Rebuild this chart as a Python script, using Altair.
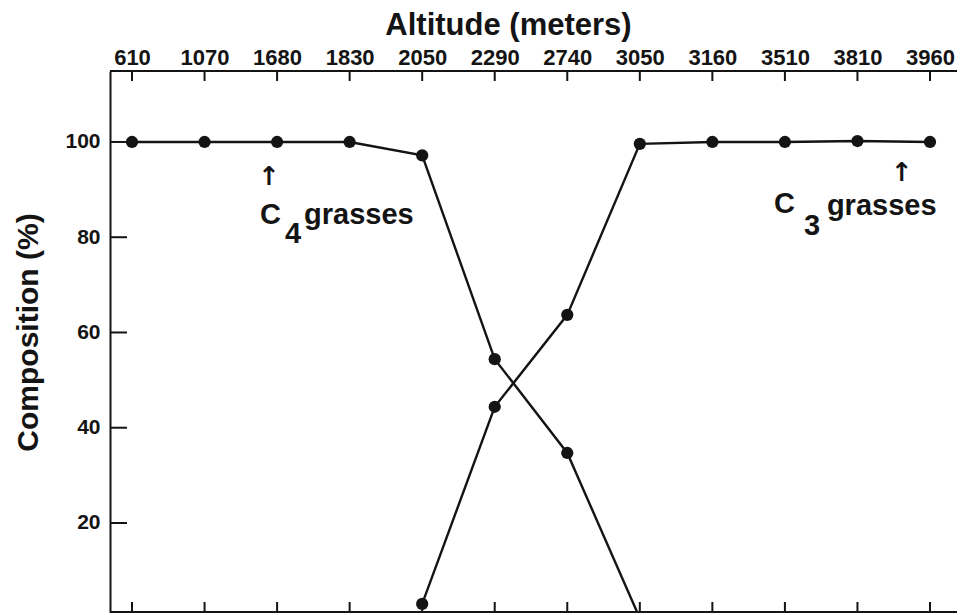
import altair as alt
import pandas as pd

# ---------------- data ----------------
altitudes = ["610", "1070", "1680", "1830", "2050", "2290",
             "2740", "3050", "3160", "3510", "3810", "3960"]
c4_altitudes = altitudes[:8]
c4_values = [100, 100, 100, 100, 97.2, 54.4, 34.7, 0]
c3_altitudes = altitudes[4:]
c3_values = [3.0, 44.4, 63.7, 99.6, 100, 100, 100.2, 100]
series_names = ["C4 grasses", "C3 grasses"]
y_ticks = [20, 40, 60, 80, 100]

# annotation pieces: (anchor altitude, value, text)
ann_c4 = [("1680", 92.7, "↑"), ("1680", 82.8, "C"), ("1680", 78.8, "4"), ("1680", 82.8, "grasses")]
ann_c3 = [("3960", 93.5, "↑"), ("3510", 85.1, "C"), ("3510", 80.5, "3"), ("3510", 84.7, "grasses")]

# ---------------- style ----------------
W, H = 847, 542
INK = "#141414"
FONT = "Liberation Sans"

df = pd.DataFrame({
    "altitude": c4_altitudes + c3_altitudes,
    "pct": c4_values + c3_values,
    "series": [series_names[0]] * len(c4_values) + [series_names[1]] * len(c3_values),
})

xscale = alt.Scale(type="point", domain=altitudes, range=[22, 820], padding=0)
yscale = alt.Scale(domain=[1.1, 114.9], nice=False, zero=False)

xaxis = alt.Axis(orient="top", title="Altitude (meters)", ticks=False, grid=False,
                 domain=False, labelAngle=0,
                 labelFont=FONT, labelFontSize=22, labelFontWeight="bold", labelColor=INK,
                 labelPadding=2,
                 titleFont=FONT, titleFontSize=31, titleFontWeight="bold", titleColor=INK,
                 titleX=398, titleY=-37, titleAlign="center", titleBaseline="alphabetic")
yaxis = alt.Axis(orient="left", title="Composition (%)", values=y_ticks, ticks=False, grid=False,
                 domainColor=INK, domainWidth=2,
                 labelFont=FONT, labelFontSize=21, labelFontWeight="bold", labelColor=INK,
                 labelPadding=10,
                 titleFont=FONT, titleFontSize=30, titleFontWeight="bold", titleColor=INK,
                 titleX=-82, titleY=261, titleAngle=270, titleAlign="center",
                 titleBaseline="middle")

X = alt.X("altitude:N", scale=xscale, axis=xaxis, sort=altitudes)
Y = alt.Y("pct:Q", scale=yscale, axis=yaxis)

base = alt.Chart(df)
lines = base.mark_line(color=INK, strokeWidth=2.4, clip=True).encode(
    x=X, y=Y, detail="series:N")
points = base.mark_circle(color=INK, size=150, opacity=1, clip=True).encode(x=X, y=Y)

alt_df = pd.DataFrame({"altitude": altitudes})
top_ticks = alt.Chart(alt_df).mark_rule(color=INK, strokeWidth=2).encode(
    x=X, y=alt.value(0), y2=alt.value(10))
bottom_ticks = alt.Chart(alt_df).mark_rule(color=INK, strokeWidth=2).encode(
    x=X, y=alt.value(H), y2=alt.value(H - 11))
left_ticks = alt.Chart(pd.DataFrame({"pct": y_ticks})).mark_rule(color=INK, strokeWidth=2).encode(
    y=Y, x=alt.value(0), x2=alt.value(17))
frame_df = pd.DataFrame({"k": [0]})
top_line = alt.Chart(frame_df).mark_rule(color=INK, strokeWidth=2).encode(
    x=alt.value(0), x2=alt.value(W), y=alt.value(0))
bottom_line = alt.Chart(frame_df).mark_rule(color=INK, strokeWidth=2).encode(
    x=alt.value(0), x2=alt.value(W), y=alt.value(H - 1))

# offsets for each annotation piece (pixels from anchor point)
c4_dx = [-8, -17, 8, 27]
c3_dx = [-28, -11, 19, 42]


def piece(anchor, value, text, dx):
    is_arrow = text == "↑"
    return alt.Chart(pd.DataFrame({"altitude": [anchor], "pct": [value], "t": [text]})).mark_text(
        align="center" if is_arrow else "left",
        baseline="middle" if is_arrow else "alphabetic",
        dx=dx, font="DejaVu Sans" if is_arrow else FONT, fontWeight="bold",
        fontSize=26 if is_arrow else 29, color=INK,
    ).encode(x=X, y=Y, text="t:N")


ann_layers = [piece(a, v, t, d) for (a, v, t), d in zip(ann_c4, c4_dx)] + \
             [piece(a, v, t, d) for (a, v, t), d in zip(ann_c3, c3_dx)]

chart = alt.layer(lines, points, top_ticks, bottom_ticks, left_ticks, top_line, bottom_line,
                  *ann_layers).properties(
    width=W, height=H,
    autosize=alt.AutoSizeParams(type="none"),
    padding={"left": 102, "top": 63, "right": 0, "bottom": 0},
    background="white",
).configure_view(stroke=None)

chart.save("out.html", embed_options={"renderer": "svg", "actions": False})
